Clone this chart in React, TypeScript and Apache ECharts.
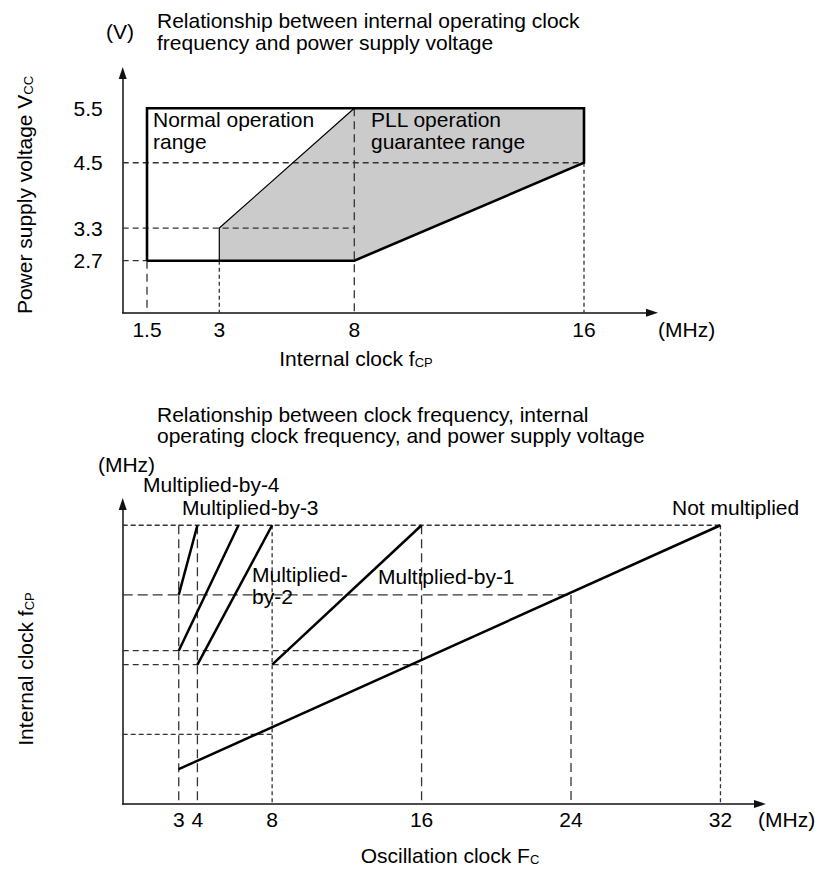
import React, { useEffect, useRef } from 'react';
import * as echarts from 'echarts';

// ---------------- Top chart: internal clock vs supply voltage ----------------
const topTitleLines = ['Relationship between internal operating clock', 'frequency and power supply voltage'];
const topXTickValues = [1.5, 3, 8, 16]; // MHz (internal clock fCP)
const topYTickValues = [2.7, 3.3, 4.5, 5.5]; // V (Vcc)
// normal operation range outline (fCP MHz, Vcc V)
const normalRange = [[1.5, 2.7], [1.5, 5.5], [16, 5.5], [16, 4.5], [8, 2.7], [1.5, 2.7]];
// PLL operation guarantee range (shaded)
const pllRange = [[3, 2.7], [3, 3.3], [8, 5.5], [16, 5.5], [16, 4.5], [8, 2.7]];
const pllEdge = [[3, 2.7], [3, 3.3], [8, 5.5]];
// dashed guides: horizontal [voltage, to fCP], vertical [fCP, from voltage]
const topGuideH = [[4.5, 16], [3.3, 8], [2.7, 1.5]];
const topGuideV = [[1.5, 2.7], [3, 2.7], [8, 5.5], [16, 4.5]];

// ---------------- Bottom chart: oscillation clock vs internal clock ----------------
const bottomTitleLines = ['Relationship between clock frequency, internal', 'operating clock frequency, and power supply voltage'];
const bottomXTickValues = [3, 4, 8, 16, 24, 32]; // MHz (Fc)
const multBy4 = [[3, 12], [4, 16]];
const multBy3 = [[3, 8.8], [6.2, 16]];
const multBy2 = [[4, 8], [8, 16]];
const multBy1 = [[8, 8], [16, 16]];
const notMultiplied = [[3, 2.0], [32, 16]];
// dashed guides: horizontal [fCP, to Fc], vertical [Fc, from fCP]
const bottomGuideH = [[16, 32], [12, 24], [8.8, 16], [8, 16], [4, 8]];
const bottomGuideV = [[3, 16], [4, 16], [8, 16], [16, 16], [24, 12], [32, 16]];

// ---------------- layout (schematic, not data) ----------------
const FONT = '"Liberation Sans", Arial, Helvetica, sans-serif';
const FS = 21;
const LH = 21.5;
// the top chart's frequency axis is drawn schematically (non-uniform); tick positions in px from the origin
const topXTickPos = [24.3, 96.6, 231.6, 461.3];
const topXAt = (f: number) => {
  const xs = [0, ...topXTickValues];
  const ps = [0, ...topXTickPos];
  for (let i = 1; i < xs.length; i++) {
    if (f <= xs[i]) return ps[i - 1] + ((f - xs[i - 1]) / (xs[i] - xs[i - 1])) * (ps[i] - ps[i - 1]);
  }
  return ps[ps.length - 1];
};

const topDashH = [[6, 4], [6, 4], [6, 4]];
const topDashV = [[8, 5], [4, 3], [8, 5], [4, 3]];
const bottomDashH = [[5, 3], [10, 5], [6, 4], [6, 4], [5, 3]];
const bottomDashV = [[9, 5], [9, 5], [4, 3], [9, 5], [9, 5], [4, 3]];

const TOP_Y_MIN = 1.7447;
const TOP_Y_MAX = 6.1486;
const BOT_X_MAX = 34.117;
const BOT_Y_MAX = 17.22;

function seg(data: number[][], grid: number, style: any, z = 3) {
  return {
    type: 'line',
    xAxisIndex: grid,
    yAxisIndex: grid,
    data,
    symbol: 'none',
    silent: true,
    z,
    lineStyle: style,
  };
}

function buildOption() {
  const series: any[] = [];
  const dashColor = '#333';
  // shaded PLL region
  series.push({
    type: 'custom',
    xAxisIndex: 0,
    yAxisIndex: 0,
    silent: true,
    z: 1,
    data: [[0, 0]],
    renderItem: (_p: any, api: any) => ({
      type: 'polygon',
      shape: { points: pllRange.map(([f, v]) => api.coord([topXAt(f), v])) },
      style: { fill: '#cbcbcb', stroke: 'none' },
    }),
  });
  topGuideH.forEach(([v, f], i) =>
    series.push(seg([[0, v], [topXAt(f), v]], 0, { color: dashColor, width: 1.3, type: topDashH[i] }, 2))
  );
  topGuideV.forEach(([f, v], i) =>
    series.push(seg([[topXAt(f), v], [topXAt(f), TOP_Y_MIN]], 0, { color: dashColor, width: 1.3, type: topDashV[i] }, 2))
  );
  series.push(seg(pllEdge.map(([f, v]) => [topXAt(f), v]), 0, { color: '#000', width: 1.2 }, 3));
  series.push(seg(normalRange.map(([f, v]) => [topXAt(f), v]), 0, { color: '#000', width: 2.6, join: 'miter' }, 4));

  bottomGuideH.forEach(([v, f], i) =>
    series.push(seg([[0, v], [f, v]], 1, { color: dashColor, width: 1.3, type: bottomDashH[i] }, 2))
  );
  bottomGuideV.forEach(([f, v], i) =>
    series.push(seg([[f, v], [f, 0]], 1, { color: dashColor, width: 1.3, type: bottomDashV[i] }, 2))
  );
  [multBy4, multBy3, multBy2, multBy1, notMultiplied].forEach((d) =>
    series.push(seg(d, 1, { color: '#000', width: 2.5 }, 4))
  );

  const axisLine = {
    show: true,
    symbol: ['none', 'triangle'],
    symbolSize: [8, 12],
    lineStyle: { color: '#111', width: 1.5 },
  };
  const labelBase = { color: '#000', fontSize: FS, fontFamily: FONT };

  const txt = (x: number, y: number, text: string, extra: any = {}) => ({
    type: 'text',
    x,
    y,
    z: 100,
    silent: true,
    style: { text, fill: '#000', font: `${FS}px ${FONT}`, align: 'left', verticalAlign: 'middle', ...extra },
  });
  // two-line block: the mid-point between the two line centres is kept where the reference has it
  const multi = (x: number, firstCenter: number, lines: string[]) => ({
    type: 'text',
    x,
    y: firstCenter - (LH - 19) / 2 - LH / 2,
    z: 100,
    silent: true,
    style: {
      text: lines.join('\n'),
      fill: '#000',
      font: `${FS}px ${FONT}`,
      lineHeight: LH,
      align: 'left',
      verticalAlign: 'top',
    },
  });
  const subRich = {
    n: { fontSize: FS, fontFamily: FONT, fill: '#000', lineHeight: 22 },
    s: { fontSize: 13, fontFamily: FONT, fill: '#000', lineHeight: 13, verticalAlign: 'bottom' },
  };
  const richTxt = (x: number, y: number, text: string, rotation = 0) => ({
    type: 'text',
    x,
    y,
    rotation,
    z: 100,
    silent: true,
    style: { text, rich: subRich, align: 'center', verticalAlign: 'middle' },
  });

  return {
    animation: false,
    backgroundColor: '#fff',
    textStyle: { fontFamily: FONT },
    grid: [
      { left: 122.7, top: 73, width: 529.3, height: 239.7, containLabel: false },
      { left: 122.7, top: 504, width: 637.3, height: 300, containLabel: false },
    ],
    xAxis: [
      {
        type: 'value',
        gridIndex: 0,
        min: 0,
        max: 529.3,
        axisLine,
        axisTick: { show: false },
        splitLine: { show: false },
        axisLabel: {
          ...labelBase,
          margin: 6,
          customValues: topXTickPos,
          formatter: (v: number) => {
            const i = topXTickPos.findIndex((p) => Math.abs(p - v) < 0.01);
            return i >= 0 ? String(topXTickValues[i]) : '';
          },
        },
      },
      {
        type: 'value',
        gridIndex: 1,
        min: 0,
        max: BOT_X_MAX,
        axisLine,
        axisTick: { show: false },
        splitLine: { show: false },
        axisLabel: {
          ...labelBase,
          margin: 5,
          customValues: bottomXTickValues,
          formatter: (v: number) => String(v),
        },
      },
    ],
    yAxis: [
      {
        type: 'value',
        gridIndex: 0,
        min: TOP_Y_MIN,
        max: TOP_Y_MAX,
        axisLine,
        axisTick: { show: false },
        splitLine: { show: false },
        axisLabel: {
          ...labelBase,
          margin: 20,
          customValues: topYTickValues,
          formatter: (v: number) => v.toFixed(1),
        },
      },
      {
        type: 'value',
        gridIndex: 1,
        min: 0,
        max: BOT_Y_MAX,
        axisLine,
        axisTick: { show: false },
        splitLine: { show: false },
        axisLabel: { show: false },
      },
    ],
    graphic: [
      // top chart
      txt(120, 31.7, '(V)', { align: 'center' }),
      multi(157, 22, topTitleLines),
      multi(153, 121, ['Normal operation', 'range']),
      multi(371, 121, ['PLL operation', 'guarantee range']),
      txt(658, 329.5, '(MHz)'),
      richTxt(356, 358, '{n|Internal clock f}{s|CP}'),
      richTxt(24, 195, '{n|Power supply voltage V}{s|CC}', Math.PI / 2),
      // bottom chart
      multi(157, 415.5, bottomTitleLines),
      txt(126.5, 464, '(MHz)', { align: 'center' }),
      txt(143, 484, 'Multiplied-by-4'),
      txt(182, 507, 'Multiplied-by-3'),
      multi(252, 576, ['Multiplied-', 'by-2']),
      txt(378, 576, 'Multiplied-by-1'),
      txt(672, 507, 'Not multiplied'),
      txt(758, 819.5, '(MHz)'),
      richTxt(450, 855, '{n|Oscillation clock F}{s|C}'),
      richTxt(25, 669, '{n|Internal clock f}{s|CP}', Math.PI / 2),
    ],
    series,
  };
}

export default function App() {
  const ref = useRef<HTMLDivElement>(null);
  useEffect(() => {
    if (!ref.current) return;
    const chart = echarts.init(ref.current, null, { renderer: 'svg' });
    chart.setOption(buildOption() as any);
    return () => chart.dispose();
  }, []);
  return (
    <div
      ref={ref}
      style={{ position: 'absolute', left: 0, top: 0, width: 815, height: 869, background: '#fff' }}
    />
  );
}
